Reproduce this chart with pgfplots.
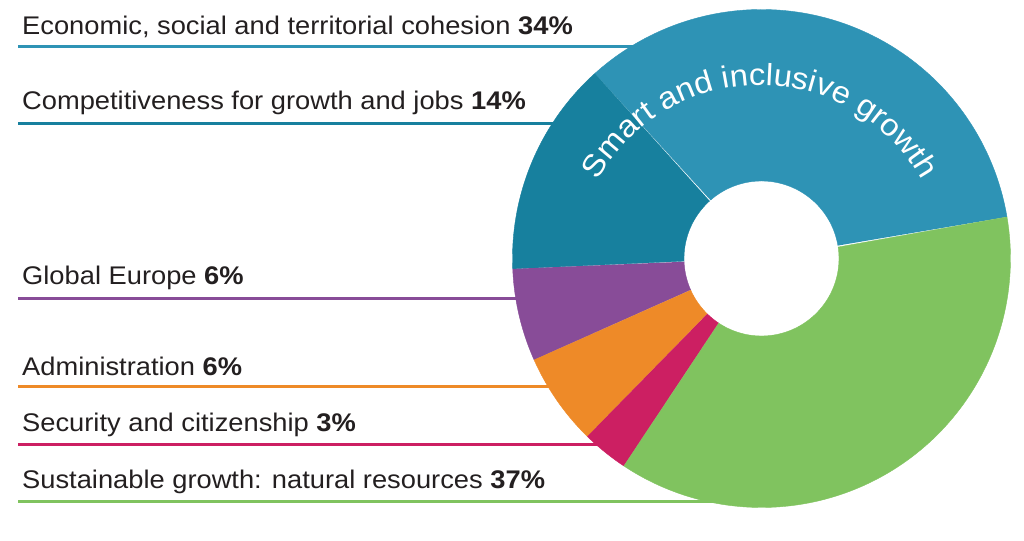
\documentclass[border=0pt]{standalone}
\usepackage{fontspec}
\setmainfont{Liberation Sans}
\newfontfamily\lblfont{Liberation Sans}[FakeStretch=1.07]
\usepackage{pgfplots}
\pgfplotsset{compat=1.18}
\usepackage{pgfplotstable}
\usetikzlibrary{decorations.text}

\definecolor{cCoh}{HTML}{2E93B5}
\definecolor{cCom}{HTML}{17809E}
\definecolor{cGlo}{HTML}{884C98}
\definecolor{cAdm}{HTML}{EE8A28}
\definecolor{cSec}{HTML}{CC1F62}
\definecolor{cSus}{HTML}{80C35F}
\definecolor{txt}{HTML}{231F20}

\pgfplotstableread{
name value
cohesion 34
competitiveness 14
global 6
admin 6
security 3
sustainable 37
}\shares

\begin{document}
\begin{tikzpicture}
\path (0,0) rectangle (1024bp,541bp);
\def\cx{761.5}\def\cy{282.5}\def\R{249}\def\r{77.5}
\pgfmathsetmacro\aA{9.6}
\pgfplotstablegetelem{0}{value}\of\shares \pgfmathsetmacro\aB{\aA+3.6*\pgfplotsretval}
\pgfplotstablegetelem{1}{value}\of\shares \pgfmathsetmacro\aC{\aB+3.6*\pgfplotsretval}
\pgfplotstablegetelem{2}{value}\of\shares \pgfmathsetmacro\aD{\aC+3.6*\pgfplotsretval}
\pgfplotstablegetelem{3}{value}\of\shares \pgfmathsetmacro\aE{\aD+3.6*\pgfplotsretval}
\pgfplotstablegetelem{4}{value}\of\shares \pgfmathsetmacro\aF{\aE+3.6*\pgfplotsretval}
\pgfplotstablegetelem{5}{value}\of\shares \pgfmathsetmacro\aG{\aF+3.6*\pgfplotsretval}
\newcommand\wedgeplot[3]{%
  \addplot[fill=#1, draw=#1, line width=0.4bp, domain=0:2, samples=241, variable=\t]
  ({\cx + ((\t<1) ? \R : \r)*cos((\t<1) ? (#2+(#3-#2)*\t) : (#3-(#3-#2)*(\t-1)))},
   {\cy + ((\t<1) ? \R : \r)*sin((\t<1) ? (#2+(#3-#2)*\t) : (#3-(#3-#2)*(\t-1)))});
}
\begin{axis}[
  at={(0,0)}, anchor=south west,
  scale only axis, width=1024bp, height=541bp,
  xmin=0, xmax=1024, ymin=0, ymax=541,
  hide axis, clip=false,
]
% leader lines
\addplot[cCoh, line width=3bp] coordinates {(18,494) (640,494)};
\addplot[cCom, line width=3bp] coordinates {(18,417.5) (560,417.5)};
\addplot[cGlo, line width=3bp] coordinates {(18,242) (530,242)};
\addplot[cAdm, line width=3bp] coordinates {(18,154) (560,154)};
\addplot[cSec, line width=3bp] coordinates {(18,96) (610,96)};
\addplot[cSus, line width=3bp] coordinates {(18,39) (720,39)};
% wedges
\wedgeplot{cCoh}{\aA}{\aB}
\wedgeplot{cCom}{\aB}{\aC}
\wedgeplot{cGlo}{\aC}{\aD}
\wedgeplot{cAdm}{\aD}{\aE}
\wedgeplot{cSec}{\aE}{\aF}
\wedgeplot{cSus}{\aF}{\aG}
% labels
\begin{scope}[every node/.style={anchor=base west, inner sep=0pt, text=txt, font=\lblfont\fontsize{25.6}{30}\selectfont}]
\node at (axis cs:22,506) {Economic, social and territorial cohesion \textbf{34\%}};
\node at (axis cs:22,431) {Competitiveness for growth and jobs \textbf{14\%}};
\node at (axis cs:22,256) {Global Europe \textbf{6\%}};
\node at (axis cs:22,165) {Administration \textbf{6\%}};
\node at (axis cs:22,109) {Security and citizenship \textbf{3\%}};
\node at (axis cs:22,52) {Sustainable growth: natural resources \textbf{37\%}};
\end{scope}
\path[decorate, decoration={text along path, text align=center,
  text={|\color{white}\lblfont\fontsize{30.8}{31}\selectfont|Smart and inclusive growth}}]
  (axis cs:760,271) ++(180:185bp) arc[start angle=180, end angle=0, radius=185bp];
\end{axis}
\end{tikzpicture}
\end{document}
